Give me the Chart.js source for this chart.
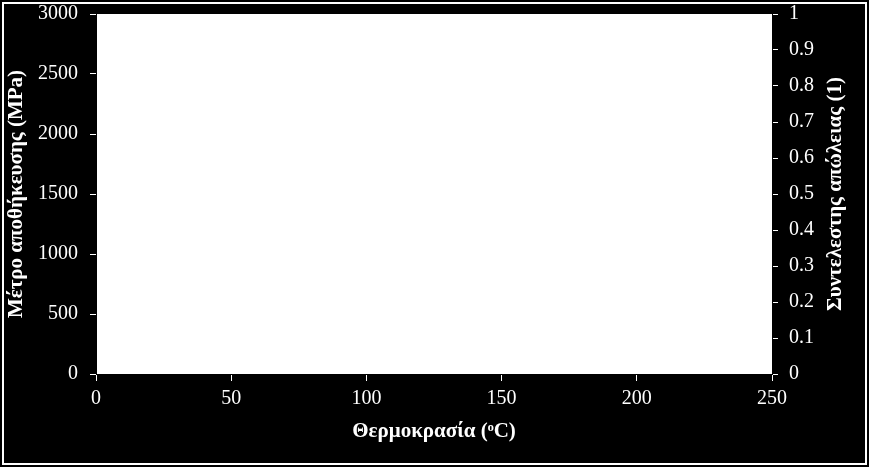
<!DOCTYPE html>
<html>
<head>
<meta charset="utf-8">
<script src="https://cdn.jsdelivr.net/npm/chart.js@4"></script>
<style>
  html, body { margin: 0; padding: 0; background: #000; }
  #wrap { width: 869px; height: 467px; }
</style>
</head>
<body>
<div id="wrap"><canvas id="chart"></canvas></div>
<script>
// tick values
const temperatureTicks = [0, 50, 100, 150, 200, 250];
const storageModulusTicks = [0, 500, 1000, 1500, 2000, 2500, 3000];
const lossFactorTicks = [0, 0.1, 0.2, 0.3, 0.4, 0.5, 0.6, 0.7, 0.8, 0.9, 1];

// the plot holds no visible marks
const storageModulus = [];
const lossFactor = [];

const serif = "'Liberation Serif', 'Times New Roman', serif";
const tickFont = { family: serif, size: 20 };
const titleFont = { family: serif, size: 21, weight: "bold" };

const useTicks = (values) => (scale) => {
  scale.ticks = values.map((v) => ({ value: v }));
};
const plain = (v) => String(v);

// fixed axis sizes, no label overhang
const fitY = (w) => (s) => {
  s.width = w;
  s.paddingTop = 0;
  s.paddingBottom = 0;
};
const fitX = (h) => (s) => {
  s.height = h;
  s.paddingLeft = 0;
  s.paddingRight = 0;
};

const frame = {
  id: "frame",
  beforeDraw(chart) {
    const { ctx, chartArea: a } = chart;
    ctx.save();
    ctx.fillStyle = "#000";
    ctx.fillRect(0, 0, chart.width, chart.height);
    ctx.fillStyle = "#fff";
    ctx.fillRect(a.left, a.top, a.right - a.left, a.bottom - a.top);
    ctx.strokeStyle = "#fff";
    ctx.lineWidth = 2;
    ctx.strokeRect(3, 3, chart.width - 6, chart.height - 6);
    ctx.restore();
  },
  afterDraw(chart) {
    // right axis title reads bottom-to-top like the left one
    const { ctx, chartArea: a } = chart;
    ctx.save();
    ctx.translate(841, (a.top + a.bottom) / 2);
    ctx.rotate(-Math.PI / 2);
    ctx.font = "bold 21px " + serif;
    ctx.fillStyle = "#fff";
    ctx.textAlign = "center";
    ctx.textBaseline = "alphabetic";
    ctx.fillText("Συντελεστης απώλειας (1)", 0, 0);
    ctx.restore();
  },
};

new Chart(document.getElementById("chart"), {
  type: "scatter",
  data: {
    datasets: [
      { label: "Μέτρο αποθήκευσης", data: storageModulus, yAxisID: "y" },
      { label: "Συντελεστης απώλειας", data: lossFactor, yAxisID: "y1" },
    ],
  },
  options: {
    responsive: true,
    maintainAspectRatio: false,
    animation: false,
    layout: { padding: { top: 14, left: 0, right: 0, bottom: 0 } },
    plugins: {
      legend: { display: false },
      tooltip: { enabled: false },
    },
    scales: {
      x: {
        type: "linear",
        min: 0,
        max: 250,
        afterBuildTicks: useTicks(temperatureTicks),
        afterFit: fitX(93),
        grid: { drawOnChartArea: false, color: "#fff", tickLength: 7 },
        border: { color: "#000" },
        ticks: { color: "#fff", font: tickFont, padding: 6, maxRotation: 0, callback: plain },
        title: {
          display: true,
          text: "Θερμοκρασία (ᵒC)",
          color: "#fff",
          font: titleFont,
          padding: { top: 0, bottom: 23 },
        },
      },
      y: {
        position: "left",
        min: 0,
        max: 3000,
        afterBuildTicks: useTicks(storageModulusTicks),
        afterFit: fitY(96),
        grid: { drawOnChartArea: false, color: "#fff", tickLength: 6 },
        border: { color: "#000" },
        ticks: { color: "#fff", font: tickFont, padding: 12, callback: plain },
        title: {
          display: true,
          text: "Μέτρο αποθήκευσης (MPa)",
          color: "#fff",
          font: titleFont,
          padding: { top: 4, bottom: 0 },
        },
      },
      y1: {
        position: "right",
        min: 0,
        max: 1,
        afterBuildTicks: useTicks(lossFactorTicks),
        afterFit: fitY(97),
        grid: { drawOnChartArea: false, color: "#fff", tickLength: 6 },
        border: { color: "#000" },
        ticks: { color: "#fff", font: tickFont, padding: 11, callback: plain },
      },
    },
  },
  plugins: [frame],
});
</script>
</body>
</html>
